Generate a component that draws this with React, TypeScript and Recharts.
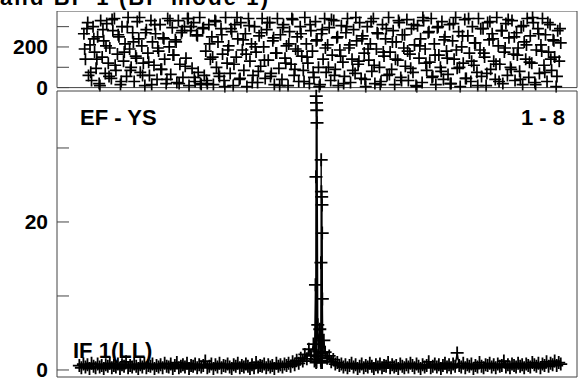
import React from 'react';
import { ScatterChart, Scatter, LineChart, Line, XAxis, YAxis } from 'recharts';

// channel axis: ticks at quarter points of the band
const CHANNEL_DOMAIN = [0, 2048];
const CHANNEL_TICKS = [512, 1024, 1536];

// top panel: phase (degrees), record 1 every 6 channels from 106, record 2 every 12 from 109
const PHASE_START = 106;
const PHASE_STEP = 6;
const phaseValues = [
  265, 140, 290, 60, 210, 35, 300, 175, 95, 250, 20, 330, 150, 230, 70, 315, 120, 195, 45, 280,
  340, 85, 165, 250, 15, 300, 130, 215, 55, 345, 190, 100, 270, 30, 155, 325, 240, 75, 205, 120,
  10, 285, 170, 60, 330, 225, 110, 265, 40, 180, 310, 90, 245, 140, 20, 340, 200, 65, 295, 160,
  235, 25, 330, 115, 270, 50, 300, 145, 340, 10, 280, 95, 320, 30, 260, 75, 345, 15, 290, 60,
  180, 20, 310, 140, 250, 15, 330, 100, 225, 55, 290, 165, 35, 345, 120, 205, 70, 275, 10, 310,
  150, 240, 40, 320, 185, 85, 265, 5, 340, 130, 215, 60, 300, 175, 25, 255, 105, 340, 200, 45,
  285, 135, 320, 70, 230, 15, 170, 340, 95, 260, 40, 310, 145, 205, 10, 275, 115, 335, 60, 190,
  250, 30, 300, 155, 85, 345, 215, 120, 20, 280, 180, 50, 325, 235, 100, 15, 265, 140, 340, 75,
  210, 295, 35, 160, 330, 90, 245, 10, 185, 305, 125, 55, 270, 340, 195, 25, 140, 285, 70, 230,
  115, 320, 45, 255, 170, 5, 300, 135, 215, 80, 340, 20, 190, 265, 100, 30, 310, 155, 240, 60,
  345, 175, 90, 280, 15, 225, 135, 320, 50, 260, 195, 105, 335, 35, 165, 290, 75, 210, 10, 305,
  145, 240, 25, 330, 190, 85, 270, 125, 340, 55, 215, 15, 295, 160, 100, 325, 40, 250, 180, 65,
  310, 20, 230, 140, 345, 95, 275, 5, 200, 120, 335, 45, 255, 170, 30, 300, 110, 220, 75, 340,
  185, 55, 290, 150, 10, 320, 235, 90, 265, 130, 40, 345, 205, 115, 280, 20, 175, 315, 60, 245,
  100, 330, 165, 35, 270, 195, 80, 300, 15, 225, 140, 340, 50, 255, 120, 320, 25, 185, 290, 70,
  210, 340, 110, 260, 30, 175, 310, 85, 235, 150, 5, 280, 130, 220,
];
const PHASE2_START = 109;
const PHASE2_STEP = 12;
const phaseValues2 = [
  190, 320, 75, 240, 140, 10, 285, 205, 55, 335, 110, 260, 30, 175, 300, 85, 225, 145, 345, 60,
  270, 125, 15, 310, 195, 90, 240, 40, 330, 160, 225, 20, 280, 105, 340, 300, 50, 255, 20, 295,
  35, 215, 150, 325, 70, 260, 5, 185, 290, 115, 345, 45, 235, 165, 305, 25, 200, 80, 270, 135,
  320, 55, 245, 170, 10, 295, 120, 215, 340, 90, 180, 265, 30, 150, 310, 75, 230, 5, 285, 195,
  100, 335, 60, 250, 155, 20, 300, 210, 85, 345, 130, 240, 40, 190, 325, 110, 270, 15, 175, 290,
  65, 225, 140, 330, 35, 260, 180, 95, 310, 5, 205, 345, 120, 275, 50, 160, 300, 80, 235, 145,
  20, 315, 185, 100, 255, 45, 340, 130, 220, 10, 290, 170, 70, 325, 240, 115, 30, 280, 195, 335,
  90, 250, 160, 40, 305, 210, 125, 345, 15, 265, 180, 75, 320, 140, 230, 55, 290,
];
const PHASE_DOMAIN = [0, 377];
const PHASE_TICKS = [0, 100, 200, 300];
const PHASE_LABELS = [0, 200];

// bottom panel: amplitude, noise every 8 channels either side of the line
const NOISE_LEFT_START = 88;
const NOISE_RIGHT_START = 1056;
const NOISE_STEP = 8;
const noiseLeft = [
  0.6, 0.3, 0.8, 0.4, 0.7, 0.2, 0.9, 0.5, 0.3, 0.8,
  0.4, 0.6, 0.2, 0.7, 0.5, 0.9, 0.3, 0.6, 0.4, 0.8,
  0.2, 0.7, 0.5, 1.1, 0.3, 0.6, 0.4, 0.8, 0.5, 0.2,
  0.7, 0.4, 0.9, 0.3, 0.6, 0.5, 0.8, 0.2, 0.6, 0.4,
  0.7, 0.3, 0.9, 0.5, 0.4, 0.8, 0.2, 0.6, 1.0, 0.3,
  0.5, 0.7, 0.4, 0.9, 0.2, 0.6, 0.5, 0.8, 0.3, 0.7,
  0.4, 0.6, 1.2, 0.3, 0.5, 0.8, 0.2, 0.7, 0.4, 0.9,
  0.3, 0.6, 0.5, 0.8, 0.4, 0.2, 0.7, 0.5, 0.9, 0.3,
  0.6, 0.4, 0.8, 0.5, 0.2, 0.7, 0.3, 1.0, 0.4, 0.6,
  0.5, 0.8, 0.3, 0.7, 0.4, 0.6, 0.2, 0.9, 0.5, 0.7,
  0.4, 0.8, 0.6, 0.9, 0.5, 1.1, 0.7, 1.3, 0.9, 1.6,
  1.2, 2.1, 1.5, 2.8, 1.9,
];
const noiseRight = [
  2.4, 1.6, 1.9, 1.1, 1.4, 0.8, 1.0, 0.6, 0.8, 0.4,
  0.7, 0.3, 0.6, 0.9, 0.4, 0.7, 0.2, 0.5, 0.8, 0.3,
  0.6, 0.4, 0.9, 0.5, 0.2, 0.7, 0.4, 0.8, 0.3, 0.6,
  0.5, 1.0, 0.3, 0.7, 0.4, 0.6, 0.2, 0.8, 0.5, 0.3,
  0.7, 0.4, 0.9, 0.6, 0.3, 0.8, 0.5, 0.2, 0.7, 0.4,
  0.6, 1.1, 0.3, 0.5, 0.8, 0.4, 0.7, 0.2, 0.6, 0.9,
  0.4, 0.7, 0.3, 0.8, 0.5, 2.3, 0.6, 0.4, 0.9, 0.3,
  0.7, 0.5, 0.8, 0.2, 0.6, 0.4, 1.0, 0.5, 0.3, 0.7,
  0.6, 0.9, 0.4, 0.7, 0.3, 0.8, 0.5, 0.6, 1.2, 0.4,
  0.7, 0.3, 0.8, 0.6, 0.4, 0.9, 0.5, 0.7, 0.3, 0.8,
  0.6, 0.4, 1.0, 0.7, 0.5, 0.9, 0.3, 0.8, 0.6, 1.1,
  0.5, 0.9, 0.7, 1.2, 0.6, 1.0, 0.8,
];
// the line itself: records peak in two neighbouring channel groups
const spikeChannels = [
  1010, 1014, 1018, 1019, 1020, 1020.5, 1021, 1021.5, 1022, 1022.5,
  1023, 1023.5, 1024, 1027, 1031, 1035, 1039, 1039.5, 1040, 1040.5,
  1041, 1041.5, 1042, 1042.5, 1043, 1043.5, 1044, 1044.5, 1045, 1047, 1051,
];
const spikeAmps = [
  3.5, 1.2, 11.5, 1.4, 26.1, 1.0, 37.0, 1.8, 36.1, 1.1,
  35.1, 2.0, 33.4, 6.1, 2.5, 5.5, 1.3, 14.5, 1.0, 28.4,
  1.6, 24.1, 1.2, 23.4, 2.2, 22.3, 1.0, 18.5, 9.6, 2.4, 4.0,
];
const AMP_DOMAIN = [-0.95, 37.7];
const AMP_TICKS = [0, 10, 20, 30];
const AMP_LABELS = [0, 20];

const TITLE = 'and BP 1 (BP mode 1)';
const BASELINE = 'EF - YS';
const BASELINE_NO = '1 - 8';
const IF_LABEL = 'IF 1(LL)';

const FONT = '"Liberation Sans", Arial, Helvetica, sans-serif';
const FRAME = '#444';

const phaseData = [
  ...phaseValues.map((ph, i) => ({ ch: PHASE_START + i * PHASE_STEP, ph })),
  ...phaseValues2.map((ph, i) => ({ ch: PHASE2_START + i * PHASE2_STEP, ph })),
];
const ampData = [
  ...noiseLeft.map((amp, i) => ({ ch: NOISE_LEFT_START + i * NOISE_STEP, amp })),
  ...spikeChannels.map((ch, i) => ({ ch, amp: spikeAmps[i] })),
  ...noiseRight.map((amp, i) => ({ ch: NOISE_RIGHT_START + i * NOISE_STEP, amp })),
];

const Cross = ({ cx, cy, size, width }: any) => {
  if (cx == null || cy == null) return null;
  const h = size / 2;
  return (
    <path
      d={`M${cx - h},${cy}H${cx + h}M${cx},${cy - h}V${cy + h}`}
      stroke="#000"
      strokeWidth={width}
      fill="none"
    />
  );
};

const tickStyle = { fill: '#000', fontSize: 21, fontWeight: 'bold', fontFamily: FONT };

export default function App() {
  return (
    <div style={{ position: 'absolute', left: 0, top: 0, width: 579, height: 380, background: '#fff' }}>
      {/* phase panel */}
      <div style={{ position: 'absolute', left: 0, top: 0, clipPath: 'inset(11px 0 0 0)' }}>
        <ScatterChart width={579} height={100} margin={{ top: 10, right: 1, bottom: 11.4, left: 56 }}>
          <XAxis xAxisId="b" type="number" dataKey="ch" domain={CHANNEL_DOMAIN} ticks={CHANNEL_TICKS}
            tick={false} tickSize={-12} height={1} stroke={FRAME} />
          <XAxis xAxisId="t" orientation="top" type="number" domain={CHANNEL_DOMAIN} ticks={CHANNEL_TICKS}
            tick={false} tickLine={false} height={1} stroke={FRAME} />
          <YAxis yAxisId="l" type="number" dataKey="ph" domain={PHASE_DOMAIN} ticks={PHASE_TICKS}
            interval={0} width={1} tickSize={-12} tickMargin={21} stroke={FRAME} tick={tickStyle}
            tickFormatter={(v: number) => (PHASE_LABELS.includes(v) ? String(v) : '')} />
          <YAxis yAxisId="r" orientation="right" type="number" domain={PHASE_DOMAIN} ticks={PHASE_TICKS}
            interval={0} width={1} tickSize={-4} tick={false} stroke={FRAME} />
          <Scatter xAxisId="b" yAxisId="l" data={phaseData} isAnimationActive={false}
            shape={(p: any) => <Cross cx={p.cx} cy={p.cy} size={12} width={1.7} />} />
        </ScatterChart>
      </div>

      {/* amplitude panel */}
      <div style={{ position: 'absolute', left: 0, top: 0 }}>
        <LineChart width={579} height={380} data={ampData} margin={{ top: 90, right: 1, bottom: 2, left: 56 }}>
          <XAxis xAxisId="b" type="number" dataKey="ch" domain={CHANNEL_DOMAIN} ticks={CHANNEL_TICKS}
            tick={false} tickSize={-12} height={1} stroke={FRAME} />
          <XAxis xAxisId="t" orientation="top" type="number" dataKey="ch" domain={CHANNEL_DOMAIN} ticks={CHANNEL_TICKS}
            tick={false} tickSize={-12} height={1} stroke={FRAME} />
          <YAxis yAxisId="l" type="number" domain={AMP_DOMAIN} ticks={AMP_TICKS}
            interval={0} width={1} tickSize={-12} tickMargin={21} stroke={FRAME} tick={tickStyle}
            tickFormatter={(v: number) => (AMP_LABELS.includes(v) ? String(v) : '')} />
          <YAxis yAxisId="r" orientation="right" type="number" domain={AMP_DOMAIN} ticks={AMP_TICKS}
            interval={0} width={1} tickSize={-4} tick={false} stroke={FRAME} />
          <Line xAxisId="b" yAxisId="l" type="linear" dataKey="amp" stroke="#000" strokeWidth={1.4}
            isAnimationActive={false}
            dot={(p: any) => <Cross key={`d${p.index}`} cx={p.cx} cy={p.cy} size={13} width={1.8} />} />
        </LineChart>
      </div>

      {/* titles */}
      <svg width={579} height={380} style={{ position: 'absolute', left: 0, top: 0, pointerEvents: 'none' }}
        fontFamily={FONT} fontWeight="bold" fill="#000">
        <text x={0} y={5} fontSize={22} textLength={268} lengthAdjust="spacing">{TITLE}</text>
        <text x={80} y={125} fontSize={22}>{BASELINE}</text>
        <text x={565} y={125} fontSize={22} textAnchor="end">{BASELINE_NO}</text>
        <text x={73} y={358} fontSize={22}>{IF_LABEL}</text>
      </svg>
    </div>
  );
}
